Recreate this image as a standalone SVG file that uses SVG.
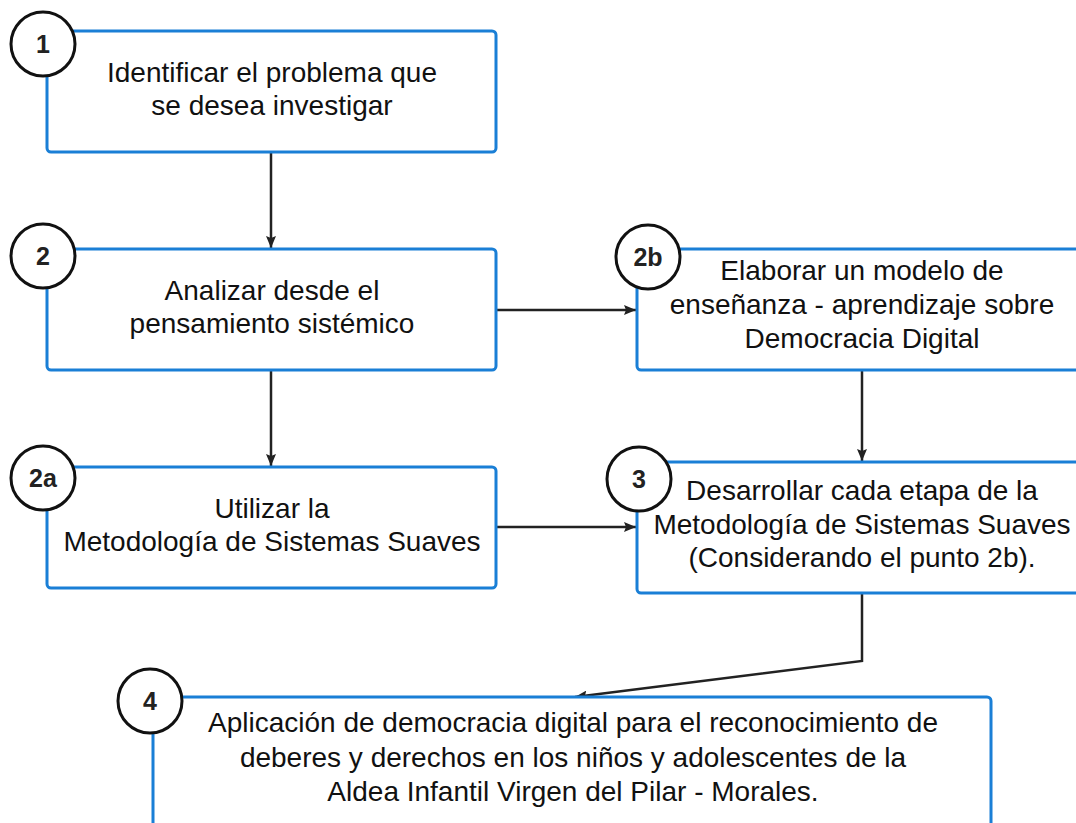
<svg xmlns="http://www.w3.org/2000/svg" width="1076" height="823" viewBox="0 0 1076 823">
<style>
.box{fill:#fff;stroke:#1a7fd6;stroke-width:3}
.num{fill:#fff;stroke:#111;stroke-width:3}
.nt{font-family:"Liberation Sans",Arial,sans-serif;font-weight:bold;font-size:25px;fill:#222;text-anchor:middle}
.t{font-family:"Liberation Sans",Arial,sans-serif;font-size:28px;fill:#111;text-anchor:middle}
.c{fill:none;stroke:#222;stroke-width:2.5}
</style>
<defs>
<marker id="ah" viewBox="0 0 12 10" refX="12" refY="5" markerWidth="12" markerHeight="10" markerUnits="userSpaceOnUse" orient="auto">
<path d="M0,0 L12,5 L0,10 L2,5 Z" fill="#222"/>
</marker>
</defs>
<rect width="1076" height="823" fill="#fff"/>
<g id="connectors">
<line class="c" x1="271" y1="153" x2="271" y2="248" marker-end="url(#ah)"/>
<line class="c" x1="271" y1="371" x2="271" y2="466" marker-end="url(#ah)"/>
<line class="c" x1="497" y1="310" x2="636" y2="310" marker-end="url(#ah)"/>
<line class="c" x1="862" y1="371" x2="862" y2="461" marker-end="url(#ah)"/>
<line class="c" x1="497" y1="527" x2="636" y2="527" marker-end="url(#ah)"/>
<polyline class="c" points="862,594 862,661 575,697" marker-end="url(#ah)"/>
</g>
<g id="node1">
<rect class="box" x="47" y="31" width="449" height="121" rx="4"/>
<text class="t" x="272" y="82">Identificar el problema que</text>
<text class="t" x="272" y="115">se desea investigar</text>
<circle class="num" cx="43" cy="44" r="32"/>
<text class="nt" x="43" y="53">1</text>
</g>
<g id="node2">
<rect class="box" x="47" y="249" width="449" height="121" rx="4"/>
<text class="t" x="272" y="300">Analizar desde el</text>
<text class="t" x="272" y="333">pensamiento sistémico</text>
<circle class="num" cx="43" cy="256" r="32"/>
<text class="nt" x="43" y="265">2</text>
</g>
<g id="node2b">
<rect class="box" x="637" y="249" width="460" height="121" rx="4"/>
<text class="t" x="862" y="280">Elaborar un modelo de</text>
<text class="t" x="862" y="314">enseñanza - aprendizaje sobre</text>
<text class="t" x="862" y="348">Democracia Digital</text>
<circle class="num" cx="648" cy="257" r="32"/>
<text class="nt" x="648" y="266">2b</text>
</g>
<g id="node2a">
<rect class="box" x="47" y="467" width="449" height="121" rx="4"/>
<text class="t" x="272" y="518">Utilizar la</text>
<text class="t" x="272" y="551">Metodología de Sistemas Suaves</text>
<circle class="num" cx="43" cy="478" r="32"/>
<text class="nt" x="43" y="487">2a</text>
</g>
<g id="node3">
<rect class="box" x="637" y="462" width="460" height="131" rx="4"/>
<text class="t" x="862" y="500">Desarrollar cada etapa de la</text>
<text class="t" x="862" y="534">Metodología de Sistemas Suaves</text>
<text class="t" x="862" y="567">(Considerando el punto 2b).</text>
<circle class="num" cx="639" cy="479" r="32"/>
<text class="nt" x="639" y="488">3</text>
</g>
<g id="node4">
<rect class="box" x="153" y="697" width="838" height="160" rx="4"/>
<text class="t" x="573" y="732">Aplicación de democracia digital para el reconocimiento de</text>
<text class="t" x="573" y="767">deberes y derechos en los niños y adolescentes de la</text>
<text class="t" x="573" y="801">Aldea Infantil Virgen del Pilar - Morales.</text>
<circle class="num" cx="150" cy="701" r="32"/>
<text class="nt" x="150" y="710">4</text>
</g>
</svg>
